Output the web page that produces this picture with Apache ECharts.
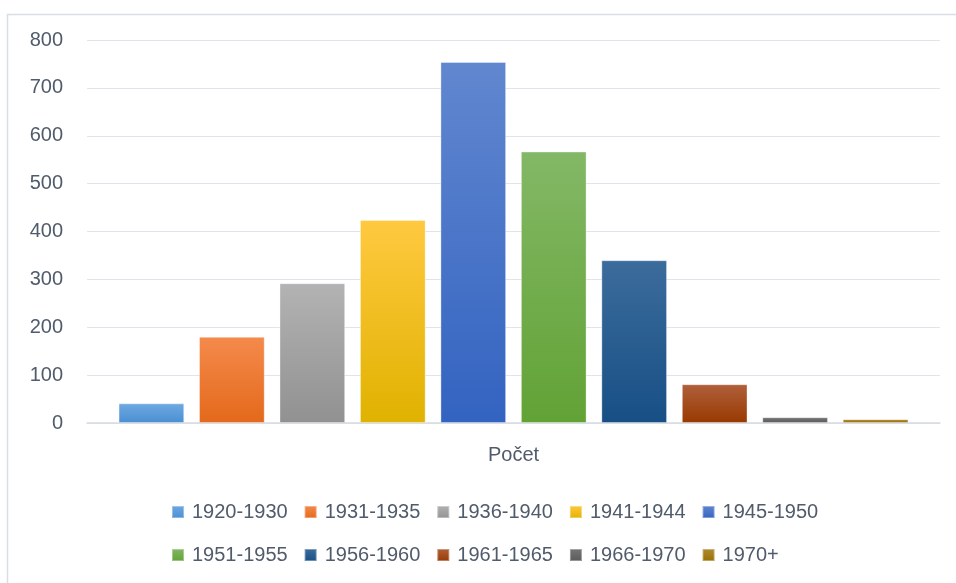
<!DOCTYPE html>
<html>
<head>
<meta charset="utf-8">
<script src="https://cdn.jsdelivr.net/npm/echarts@6/dist/echarts.min.js"></script>
<style>html,body{margin:0;padding:0;background:#fff}#c{width:956px;height:583px}</style>
</head>
<body>
<div id="c"></div>
<script>
const categories = ['Počet'];
const seriesNames = ['1920-1930','1931-1935','1936-1940','1941-1944','1945-1950','1951-1955','1956-1960','1961-1965','1966-1970','1970+'];
const seriesValues = [41, 180, 292, 424, 754, 567, 340, 81, 12, 8];
const yTicks = [0, 100, 200, 300, 400, 500, 600, 700, 800];
const topColors = ['#6fa9e1','#f58a4c','#b3b3b3','#ffc940','#6187cf','#83b866','#3c6c9c','#b0603c','#767676','#b08a35'];
const bottomColors = ['#4a8fd3','#e3691b','#919191','#e0b200','#3363c1','#62a235','#174f85','#983900','#5a5a5a','#987000'];

const textColor = '#505b6b';
const font = 'Liberation Sans';

const series = seriesNames.map((n, i) => ({
  name: n,
  type: 'bar',
  data: [seriesValues[i]],
  barGap: '22.5%',
  barCategoryGap: '7.4%',
  itemStyle: {
    color: new echarts.graphic.LinearGradient(0, 0, 0, 1, [
      {offset: 0, color: topColors[i]},
      {offset: 1, color: bottomColors[i]}
    ]),
    borderColor: 'rgba(255,255,255,0.35)',
    borderWidth: 1
  }
}));

const chart = echarts.init(document.getElementById('c'), null, {renderer: 'canvas'});
const legendBase = {
  icon: 'rect', itemWidth: 12, itemHeight: 12, itemGap: 16,
  textStyle: {color: textColor, fontSize: 20, fontFamily: font, padding: [0, 0, 0, 3]}
};
chart.setOption({
  animation: false,
  backgroundColor: '#fff',
  graphic: [{
    type: 'rect', left: 5, top: 12,
    shape: {width: 1000, height: 600},
    style: {fill: 'none', stroke: '#d9dee6', lineWidth: 1.5}
  }],
  grid: {left: 87, right: 16, top: 40, bottom: 160},
  xAxis: {
    type: 'category',
    data: categories,
    axisLine: {lineStyle: {color: '#d6dce4', width: 1.5}},
    axisTick: {show: false},
    axisLabel: {color: textColor, fontSize: 20, fontFamily: font, margin: 22}
  },
  yAxis: {
    type: 'value',
    min: yTicks[0], max: yTicks[yTicks.length - 1], interval: 100,
    axisLine: {show: false},
    axisTick: {show: false},
    splitLine: {lineStyle: {color: '#e1e5eb', width: 1.2}},
    axisLabel: {color: textColor, fontSize: 20, fontFamily: font, margin: 24}
  },
  legend: [
    Object.assign({data: seriesNames.slice(0, 5), left: 166, top: 497}, legendBase),
    Object.assign({data: seriesNames.slice(5), left: 166, top: 540}, legendBase)
  ],
  series: series
});
</script>
</body>
</html>
